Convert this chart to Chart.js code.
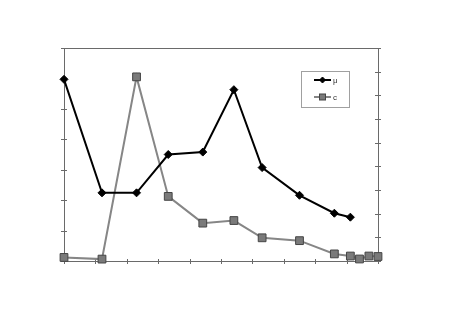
<!DOCTYPE html>
<html>
<head>
<meta charset="utf-8">
<script src="https://cdn.jsdelivr.net/npm/chart.js@4.4.0/dist/chart.umd.min.js"></script>
<style>
  html, body { margin: 0; padding: 0; background: #fff; }
  #wrap { width: 454px; height: 322px; }
</style>
</head>
<body>
<div id="wrap"><canvas id="c" width="454" height="322"></canvas></div>
<script>
// x positions of the samples (x axis 0..10)
const xValues = [0, 1.21, 2.31, 3.32, 4.42, 5.41, 6.31, 7.5, 8.61, 9.12, 9.41, 9.71, 10];
// series μ (left axis, 0..7)
const muValues = [5.97, 2.24, 2.24, 3.50, 3.58, 5.63, 3.07, 2.16, 1.57, 1.44];
// series c (right axis, 0..9)
const cValues = [0.15, 0.08, 7.78, 2.73, 1.60, 1.71, 0.98, 0.86, 0.30, 0.21, 0.085, 0.21, 0.19];
const seriesNames = ['μ', 'c'];

const muPoints = muValues.map((v, i) => ({ x: xValues[i], y: v }));
const cPoints = cValues.map((v, i) => ({ x: xValues[i], y: v }));

const AXIS = '#6a6a6a';

const framePlugin = {
  id: 'frame',
  beforeDatasetsDraw(chart) {
    const ctx = chart.ctx;
    const a = chart.chartArea;
    ctx.save();
    ctx.strokeStyle = AXIS;
    ctx.lineWidth = 1;
    ctx.strokeRect(Math.round(a.left) + 0.5, Math.round(a.top) + 0.5,
                   Math.round(a.right - a.left), Math.round(a.bottom - a.top));
    // crossing tick marks
    const sx = chart.scales.x, yl = chart.scales.y, yr = chart.scales.y2;
    ctx.beginPath();
    sx.ticks.forEach(t => {
      const px = Math.round(sx.getPixelForValue(t.value)) + 0.5;
      ctx.moveTo(px, a.bottom - 2); ctx.lineTo(px, a.bottom + 3);
    });
    yl.ticks.forEach(t => {
      const py = Math.round(yl.getPixelForValue(t.value)) + 0.5;
      ctx.moveTo(a.left - 3, py); ctx.lineTo(a.left + 3, py);
    });
    yr.ticks.forEach(t => {
      const py = Math.round(yr.getPixelForValue(t.value)) + 0.5;
      ctx.moveTo(a.right - 3, py); ctx.lineTo(a.right + 3, py);
    });
    ctx.stroke();
    ctx.restore();
  },
  afterDatasetsDraw(chart) {
    // legend box
    const ctx = chart.ctx;
    ctx.save();
    ctx.fillStyle = '#fff';
    ctx.fillRect(301, 71, 48, 36);
    ctx.strokeStyle = '#a0a0a0';
    ctx.lineWidth = 1;
    ctx.strokeRect(301.5, 71.5, 48, 36);
    const rows = [80, 97];
    chart.data.datasets.forEach((ds, i) => {
      const y = rows[i];
      ctx.strokeStyle = ds.borderColor;
      ctx.lineWidth = 2;
      ctx.beginPath(); ctx.moveTo(314, y); ctx.lineTo(331, y); ctx.stroke();
      ctx.fillStyle = ds.pointBackgroundColor;
      ctx.strokeStyle = ds.pointBorderColor;
      ctx.lineWidth = 1;
      if (i === 0) {
        ctx.beginPath();
        ctx.moveTo(322.5, y - 3); ctx.lineTo(325.5, y); ctx.lineTo(322.5, y + 3); ctx.lineTo(319.5, y);
        ctx.closePath(); ctx.fill(); ctx.stroke();
      } else {
        ctx.fillRect(319.5, y - 3, 6, 6); ctx.strokeRect(319.5, y - 3, 6, 6);
      }
      ctx.fillStyle = '#333';
      ctx.font = '8px "Liberation Sans", Arial, sans-serif';
      ctx.textBaseline = 'middle';
      ctx.fillText(ds.label, 333, y + 1);
    });
    ctx.restore();
  }
};

new Chart(document.getElementById('c'), {
  type: 'scatter',
  data: {
    datasets: [
      {
        label: seriesNames[0],
        data: muPoints,
        yAxisID: 'y',
        showLine: true,
        borderColor: '#000',
        borderWidth: 2,
        pointStyle: 'rectRot',
        pointRadius: 4,
        pointBackgroundColor: '#000',
        pointBorderColor: '#000',
        pointBorderWidth: 1,
        clip: false,
        order: 1
      },
      {
        label: seriesNames[1],
        data: cPoints,
        yAxisID: 'y2',
        showLine: true,
        borderColor: '#868686',
        borderWidth: 2,
        pointStyle: 'rect',
        pointRadius: 5.5,
        pointBackgroundColor: '#7a7a7a',
        pointBorderColor: '#454545',
        pointBorderWidth: 1,
        clip: false,
        order: 2
      }
    ]
  },
  options: {
    responsive: false,
    animation: false,
    layout: { padding: { top: 48, left: 0, right: 0, bottom: 0 } },
    plugins: { legend: { display: false }, tooltip: { enabled: false } },
    scales: {
      x: {
        type: 'linear', min: 0, max: 10,
        ticks: { stepSize: 1, display: false },
        grid: { display: false }, border: { display: false },
        afterFit(s) { s.height = 61; }
      },
      y: {
        position: 'left', min: 0, max: 7,
        ticks: { stepSize: 1, display: false },
        grid: { display: false }, border: { display: false },
        afterFit(s) { s.width = 64; }
      },
      y2: {
        position: 'right', min: 0, max: 9,
        ticks: { stepSize: 1, display: false },
        grid: { display: false }, border: { display: false },
        afterFit(s) { s.width = 76; }
      }
    }
  },
  plugins: [framePlugin]
});
</script>
</body>
</html>
